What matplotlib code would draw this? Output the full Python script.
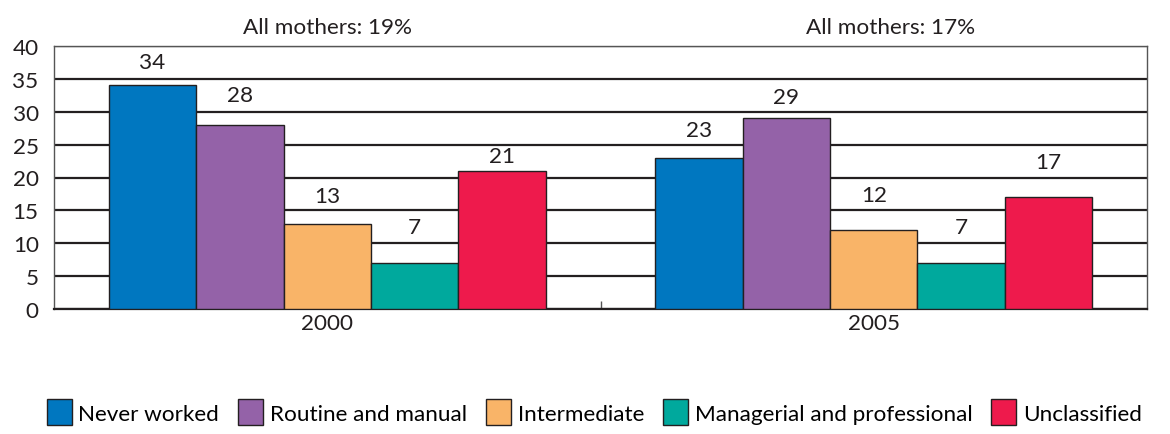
import matplotlib
matplotlib.use("Agg")
import matplotlib.pyplot as plt
import numpy as np

years = ["2000", "2005"]
categories = ["Never worked", "Routine and manual", "Intermediate",
              "Managerial and professional", "Unclassified"]
values = {
    "Never worked": [34, 23],
    "Routine and manual": [28, 29],
    "Intermediate": [13, 12],
    "Managerial and professional": [7, 7],
    "Unclassified": [21, 17],
}
# vertical placement (data units) of each value label, as in the original
label_y = {
    "Never worked": [37.5, 27.2],
    "Routine and manual": [32.5, 32.3],
    "Intermediate": [17.2, 17.3],
    "Managerial and professional": [12.5, 12.5],
    "Unclassified": [23.2, 22.4],
}
colors = ["#0077C0", "#9462A8", "#F9B468", "#00A99D", "#EE1A4C"]
annotations = ["All mothers: 19%", "All mothers: 17%"]
annot_x = [0.0, 1.03]

plt.rcParams['font.family'] = ['Lato', 'DejaVu Sans']
fs = 16.2
edge = "#231f20"

fig = plt.figure(figsize=(11.7, 4.35), dpi=100)
ax = fig.add_axes([54/1170, 1-310/435, (1147-54)/1170, (310-47)/435])

x = np.arange(len(years))
w = 0.16
for i, cat in enumerate(categories):
    pos = x + (i - 2) * w
    ax.bar(pos, values[cat], width=w, color=colors[i], edgecolor=edge,
           linewidth=1.0, zorder=3, label=cat)
    for p, v, ly in zip(pos, values[cat], label_y[cat]):
        ax.text(p, ly, str(v), ha='center', va='center', fontsize=fs,
                color='#231f20', zorder=4)

ax.set_xlim(-0.5, 1.5)
ax.set_ylim(0, 40)
ax.set_yticks(range(0, 41, 5))
ax.yaxis.grid(True, color='#231f20', linewidth=1.6, zorder=0)
ax.set_axisbelow(True)
ax.tick_params(axis='y', length=0, labelsize=fs, pad=11, colors='#231f20')
ax.set_xticks(x)
ax.set_xticklabels(years)
ax.tick_params(axis='x', length=0, labelsize=fs, pad=3, colors='#231f20')
ax.set_xticks([0.5], minor=True)
ax.tick_params(axis='x', which='minor', length=6, direction='in', width=1, color='#555555')
for s in ['left', 'right', 'top']:
    ax.spines[s].set_color('#555555')
    ax.spines[s].set_linewidth(1.0)
ax.spines['bottom'].set_color('#231f20')
ax.spines['bottom'].set_linewidth(1.6)

for t, xx in zip(annotations, annot_x):
    ax.text(xx, 41.3, t, ha='center', va='bottom', fontsize=fs, color='#231f20')

fig.legend(loc='lower center', bbox_to_anchor=(0.508, -0.025), ncol=5, frameon=False,
           fontsize=fs, handlelength=1.1, handleheight=1.35, handletextpad=0.3,
           columnspacing=0.85)

fig.savefig("out.png", dpi=100)
